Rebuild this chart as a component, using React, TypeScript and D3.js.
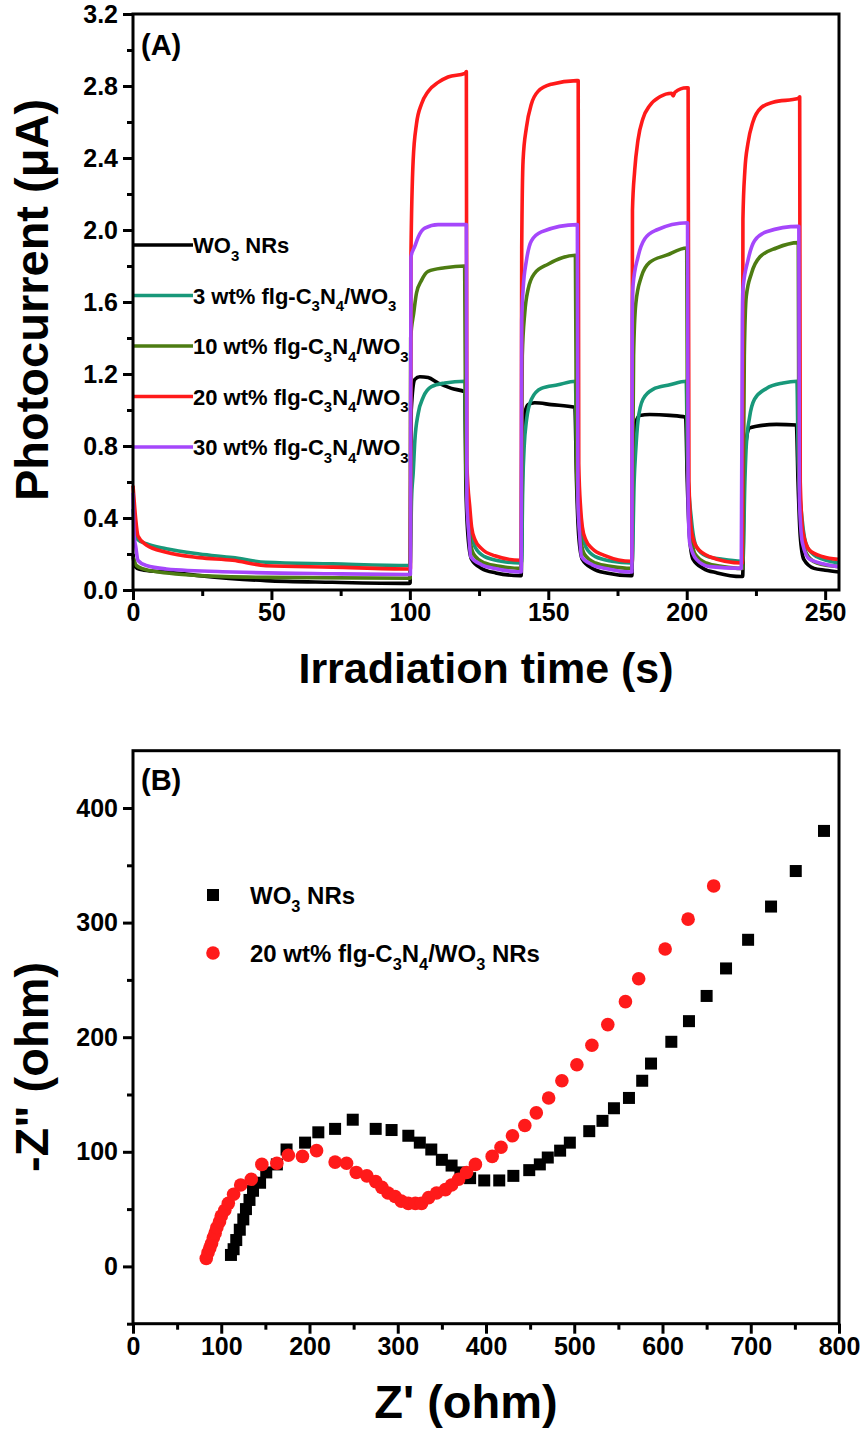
import React, { useEffect, useRef } from 'react';
import * as d3 from 'd3';

const W = 863;
const H = 1436;
const FONT = 'Liberation Sans, Arial, sans-serif';

// ---- panel A: photocurrent, [time (s), current (uA)] ----
const wo3Current: [number, number][] = [
  [0, 0.2], [0.5, 0.14], [1.5, 0.12], [4, 0.11], [12, 0.1], [24, 0.08], [48, 0.052], [72, 0.043], [99.8, 0.037],
  [100.1, 0.04], [100.5, 1.0], [101.8, 1.17], [103.6, 1.185], [106.6, 1.18], [110.2, 1.15], [115, 1.12], [119.9, 1.1],
  [120.2, 0.6], [121, 0.3], [122.3, 0.17], [125.9, 0.12], [131, 0.095], [139.8, 0.08],
  [140.2, 0.08], [140.8, 0.8], [141.5, 0.98], [142.7, 1.03], [145.1, 1.04], [151.1, 1.03], [159.6, 1.015],
  [160.2, 0.6], [161, 0.3], [162.3, 0.17], [166, 0.12], [171, 0.095], [179.8, 0.08],
  [180.2, 0.08], [180.8, 0.8], [181.6, 0.93], [183, 0.97], [186.6, 0.975], [193.9, 0.97], [199.6, 0.96],
  [200.2, 0.6], [201, 0.3], [202.3, 0.17], [206, 0.12], [211, 0.095], [219.8, 0.075],
  [220.2, 0.075], [220.8, 0.7], [221.5, 0.83], [222.7, 0.9], [225.2, 0.91], [232.4, 0.92], [239.6, 0.917],
  [240.2, 0.6], [241, 0.3], [242.3, 0.17], [246, 0.12], [250, 0.11], [255, 0.1],
];
const cn3Current: [number, number][] = [
  [0, 0.45], [0.5, 0.35], [1, 0.3], [1.8, 0.28], [4.8, 0.257], [12, 0.229], [24, 0.2], [36, 0.18], [48, 0.154], [72, 0.145], [99.8, 0.136],
  [100.1, 0.136], [100.6, 0.5], [101.2, 0.65], [101.8, 0.83], [103, 0.98], [104.8, 1.07], [107.8, 1.13], [112.6, 1.15], [119.9, 1.16],
  [120.3, 0.7], [121.7, 0.39], [123.5, 0.24], [127, 0.185], [133, 0.16], [139.8, 0.15],
  [140.3, 0.15], [140.8, 0.6], [141.3, 0.8], [142.1, 0.94], [143.9, 1.06], [147.5, 1.12], [153.5, 1.14], [159.8, 1.16],
  [160.3, 0.7], [161.7, 0.39], [163.5, 0.24], [167, 0.185], [173, 0.16], [179.8, 0.15],
  [180.3, 0.15], [181, 0.6], [181.6, 0.78], [182.4, 0.94], [184.2, 1.06], [187.8, 1.115], [193.9, 1.14], [199.8, 1.16],
  [200.3, 0.7], [201.7, 0.39], [203.5, 0.24], [207, 0.19], [213, 0.17], [219.8, 0.16],
  [220.3, 0.16], [221, 0.6], [221.5, 0.8], [222.7, 0.96], [224.5, 1.06], [228.8, 1.12], [234.8, 1.15], [239.8, 1.16],
  [240.3, 0.7], [241.7, 0.39], [243.5, 0.24], [247, 0.185], [255, 0.15],
];
const cn10Current: [number, number][] = [
  [0, 0.18], [0.3, 0.17], [1.2, 0.136], [6, 0.108], [24, 0.08], [48, 0.07], [99.8, 0.065],
  [100.1, 0.065], [100.3, 1.4], [101.4, 1.54], [102.4, 1.65], [104.2, 1.72], [106.6, 1.77], [112.6, 1.79], [119.8, 1.8],
  [120.2, 0.7], [121.2, 0.35], [123, 0.2], [127, 0.15], [133, 0.13], [139.8, 0.12],
  [140.2, 0.12], [140.6, 1.3], [141.5, 1.54], [142.7, 1.67], [145.1, 1.76], [149.9, 1.81], [159.8, 1.86],
  [160.2, 0.7], [161.2, 0.35], [163, 0.2], [167, 0.15], [173, 0.13], [179.8, 0.12],
  [180.2, 0.12], [180.8, 1.3], [181.6, 1.59], [183.6, 1.74], [186.6, 1.82], [192.7, 1.86], [200, 1.9],
  [200.3, 0.7], [201.3, 0.35], [203, 0.2], [207, 0.15], [213, 0.13], [219.8, 0.12],
  [220.2, 0.12], [220.8, 1.3], [221.5, 1.63], [223.4, 1.76], [226.4, 1.85], [232.4, 1.9], [240.3, 1.93],
  [240.5, 0.7], [241.5, 0.35], [243.3, 0.2], [247, 0.15], [255, 0.13],
];
const cn20Current: [number, number][] = [
  [0, 0.58], [0.4, 0.5], [1, 0.39], [1.8, 0.3], [4.8, 0.25], [12, 0.21], [24, 0.18], [36, 0.165], [48, 0.135], [72, 0.127], [99.8, 0.117],
  [100.2, 0.117], [100.4, 1.87], [101.2, 2.39], [102.4, 2.59], [104.2, 2.7], [106.6, 2.77], [110.2, 2.82], [113.8, 2.85], [119.9, 2.87], [120.4, 2.88],
  [120.6, 0.7], [121.7, 0.45], [122.3, 0.35], [123.5, 0.28], [125.9, 0.23], [130.7, 0.19], [140, 0.165],
  [140.2, 0.165], [140.4, 1.9], [140.9, 2.39], [142.1, 2.57], [143.9, 2.7], [146.3, 2.77], [151.1, 2.81], [160.2, 2.83], [160.8, 2.83],
  [161, 0.7], [161.7, 0.45], [162.3, 0.35], [163.5, 0.28], [165.9, 0.23], [170.7, 0.19], [180, 0.16],
  [180.2, 0.16], [180.4, 2.11], [181.2, 2.33], [182.4, 2.5], [184.2, 2.62], [186.6, 2.69], [190.3, 2.74], [194.5, 2.76], [195.1, 2.745], [195.7, 2.765], [199.9, 2.79], [200.5, 2.79],
  [200.8, 0.6], [201.7, 0.33], [203.5, 0.24], [208.3, 0.185], [220, 0.15],
  [220.1, 0.15], [220.3, 2.06], [221, 2.33], [222.1, 2.48], [223.9, 2.6], [226.9, 2.68], [231.2, 2.71], [240.2, 2.73], [240.8, 2.74],
  [241, 0.6], [242, 0.32], [244.4, 0.22], [249.2, 0.185], [254.6, 0.17],
];
const cn30Current: [number, number][] = [
  [0, 0.54], [0.4, 0.3], [1, 0.24], [1.8, 0.164], [4.8, 0.136], [12, 0.117], [36, 0.1], [72, 0.09], [99.8, 0.086],
  [100.2, 0.086], [100.4, 1.85], [101.8, 1.91], [103, 1.96], [105.4, 2.01], [110.2, 2.03], [120.4, 2.03],
  [120.6, 0.5], [121.3, 0.31], [122, 0.185], [125.9, 0.14], [130.7, 0.12], [140.2, 0.1],
  [140.4, 1.5], [140.9, 1.67], [142.1, 1.83], [143.9, 1.94], [147.5, 1.99], [160.5, 2.03],
  [160.7, 0.5], [161.3, 0.31], [162, 0.185], [165.9, 0.14], [170.7, 0.12], [180.2, 0.1],
  [180.3, 1.5], [180.6, 1.69], [182.4, 1.85], [184.8, 1.95], [189.1, 2.0], [200.3, 2.04],
  [200.5, 0.5], [201.1, 0.26], [203.5, 0.17], [208.3, 0.13], [219.7, 0.12],
  [220.1, 1.5], [220.3, 1.67], [222.1, 1.83], [224.5, 1.94], [228.8, 1.99], [240.5, 2.02],
  [240.7, 0.5], [241.8, 0.26], [244.4, 0.17], [254.6, 0.13],
];

const currentSeries = [wo3Current, cn3Current, cn10Current, cn20Current, cn30Current];
const currentColors = ['#000000', '#18987a', '#4d7c12', '#ff1a1a', '#a547fb'];
// legend parts: [text, isSubscript]
const currentLabels: [string, boolean][][] = [
  [['WO', false], ['3', true], [' NRs', false]],
  [['3 wt% flg-C', false], ['3', true], ['N', false], ['4', true], ['/WO', false], ['3', true]],
  [['10 wt% flg-C', false], ['3', true], ['N', false], ['4', true], ['/WO', false], ['3', true]],
  [['20 wt% flg-C', false], ['3', true], ['N', false], ['4', true], ['/WO', false], ['3', true]],
  [['30 wt% flg-C', false], ['3', true], ['N', false], ['4', true], ['/WO', false], ['3', true]],
];
const timeTicks = [0, 50, 100, 150, 200, 250];
const timeMinor = [25, 75, 125, 175, 225];
const currentTicks = [0, 0.4, 0.8, 1.2, 1.6, 2.0, 2.4, 2.8, 3.2];
const currentMinor = [0.2, 0.6, 1.0, 1.4, 1.8, 2.2, 2.6, 3.0];

// ---- panel B: Nyquist plot, [Z' (ohm), -Z'' (ohm)] ----
const wo3Eis: [number, number][] = [
  [111, 10], [114, 15], [117, 23], [121, 32], [125, 41], [128, 50], [132, 58], [136, 66], [144, 73], [151, 82],
  [163, 89], [174, 102], [195, 108], [210, 117], [229, 120], [249, 128], [275, 120], [293, 119], [312, 114], [325, 108],
  [338, 102], [350, 93], [361, 88], [371, 82], [382, 77], [398, 75], [415, 75], [431, 79], [449, 84], [461, 89],
  [470, 95], [484, 101], [495, 108], [517, 118], [532, 127], [545, 138], [562, 147], [577, 162], [587, 177], [610, 196],
  [630, 214], [650, 236], [672, 260], [697, 285], [723, 314], [751, 345], [783, 380],
];
const cn20Eis: [number, number][] = [
  [83, 7], [85, 12], [87, 16], [89, 20], [91, 25], [93, 29], [95, 34], [98, 39], [100, 44], [104, 49],
  [108, 55], [114, 63], [122, 71], [134, 76], [146, 89], [163, 90], [176, 97], [192, 96], [208, 101], [229, 91],
  [242, 90], [253, 82], [265, 79], [275, 74], [282, 69], [289, 64], [297, 61], [304, 57], [312, 55], [320, 55],
  [327, 55], [335, 60], [344, 64], [354, 67], [361, 71], [369, 76], [378, 82], [388, 89], [407, 96], [417, 104],
  [430, 114], [444, 123], [457, 134], [471, 147], [486, 162], [503, 176], [520, 193], [538, 211], [558, 231],
  [573, 251], [603, 277], [629, 303], [658, 332],
];
const eisLabels: [string, boolean][][] = [
  [['WO', false], ['3', true], [' NRs', false]],
  [['20 wt% flg-C', false], ['3', true], ['N', false], ['4', true], ['/WO', false], ['3', true], [' NRs', false]],
];
const zReTicks = [0, 100, 200, 300, 400, 500, 600, 700, 800];
const zReMinor = [50, 150, 250, 350, 450, 550, 650, 750];
const zImTicks = [0, 100, 200, 300, 400];
const zImMinor = [-50, 50, 150, 250, 350];

function richText(sel: any, parts: [string, boolean][], size: number) {
  let sub = false;
  parts.forEach(([s, isSub]) => {
    const t = sel.append('tspan').text(s);
    if (isSub && !sub) { t.attr('dy', size * 0.35).attr('font-size', size * 0.68); sub = true; }
    else if (isSub) { t.attr('font-size', size * 0.68); }
    else if (!isSub && sub) { t.attr('dy', -size * 0.35); sub = false; }
  });
}

function styleAxis(g: any, fs: number) {
  g.select('.domain').remove();
  g.selectAll('line').attr('stroke', '#000').attr('stroke-width', 3);
  g.selectAll('text').attr('font-size', fs).attr('font-weight', 'bold').attr('font-family', FONT).attr('fill', '#000');
}

export default function App() {
  const ref = useRef<SVGSVGElement>(null);

  useEffect(() => {
    const svg = d3.select(ref.current);
    svg.selectAll('*').remove();

    // ================= panel A =================
    const x = d3.scaleLinear().domain([0, 255]).range([133, 839]);
    const y = d3.scaleLinear().domain([0, 3.2]).range([590, 14]);

    const line = d3.line<[number, number]>().x(d => x(d[0])).y(d => y(d[1])).curve(d3.curveMonotoneX);
    currentSeries.forEach((s, i) => {
      svg.append('path').attr('d', line(s)).attr('fill', 'none')
        .attr('stroke', currentColors[i]).attr('stroke-width', 3.6).attr('stroke-linejoin', 'round');
    });

    // legend
    currentLabels.forEach((parts, i) => {
      const ly = 245 + i * 50.5;
      svg.append('line').attr('x1', 133).attr('x2', 193).attr('y1', ly).attr('y2', ly)
        .attr('stroke', currentColors[i]).attr('stroke-width', 3.6);
      const t = svg.append('text').attr('x', 193).attr('y', ly + 8)
        .attr('font-family', FONT).attr('font-weight', 'bold').attr('font-size', 22);
      richText(t, parts, 22);
    });

    svg.append('rect').attr('x', 133).attr('y', 14).attr('width', 706).attr('height', 576)
      .attr('fill', 'none').attr('stroke', '#000').attr('stroke-width', 3);

    const axA_y = svg.append('g').attr('transform', 'translate(133,0)')
      .call(d3.axisLeft(y).tickValues(currentTicks).tickSize(10).tickPadding(5).tickFormat(d3.format('.1f')));
    styleAxis(axA_y, 25);
    const axA_y2 = svg.append('g').attr('transform', 'translate(133,0)')
      .call(d3.axisLeft(y).tickValues(currentMinor).tickSize(6).tickFormat(() => ''));
    styleAxis(axA_y2, 25);
    const axA_x = svg.append('g').attr('transform', 'translate(0,590)')
      .call(d3.axisBottom(x).tickValues(timeTicks).tickSize(10).tickPadding(3));
    styleAxis(axA_x, 25);
    const axA_x2 = svg.append('g').attr('transform', 'translate(0,590)')
      .call(d3.axisBottom(x).tickValues(timeMinor).tickSize(6).tickFormat(() => ''));
    styleAxis(axA_x2, 25);

    svg.append('text').attr('x', 141).attr('y', 55).text('(A)')
      .attr('font-family', FONT).attr('font-weight', 'bold').attr('font-size', 29);

    svg.append('text').attr('transform', 'translate(48,300) rotate(-90)').attr('text-anchor', 'middle')
      .attr('font-family', FONT).attr('font-weight', 'bold').attr('font-size', 47)
      .text('Photocurrent (\u03bcA)');
    svg.append('text').attr('x', 486).attr('y', 683).attr('text-anchor', 'middle')
      .attr('font-family', FONT).attr('font-weight', 'bold').attr('font-size', 43)
      .text('Irradiation time (s)');

    // ================= panel B =================
    const xb = d3.scaleLinear().domain([0, 800]).range([133, 839]);
    const yb = d3.scaleLinear().domain([-50, 450]).range([1323.7, 750.7]);

    svg.append('g').selectAll('rect').data(wo3Eis).enter().append('rect')
      .attr('x', d => xb(d[0]) - 6).attr('y', d => yb(d[1]) - 6)
      .attr('width', 12).attr('height', 12).attr('fill', '#000');
    svg.append('g').selectAll('circle').data(cn20Eis).enter().append('circle')
      .attr('cx', d => xb(d[0])).attr('cy', d => yb(d[1])).attr('r', 6.8).attr('fill', '#ff1a1a');

    // legend
    svg.append('rect').attr('x', 207).attr('y', 889).attr('width', 12).attr('height', 12).attr('fill', '#000');
    svg.append('circle').attr('cx', 213).attr('cy', 953).attr('r', 6.8).attr('fill', '#ff1a1a');
    eisLabels.forEach((parts, i) => {
      const t = svg.append('text').attr('x', 250).attr('y', 904 + i * 58)
        .attr('font-family', FONT).attr('font-weight', 'bold').attr('font-size', 24);
      richText(t, parts, 24);
    });

    svg.append('rect').attr('x', 133).attr('y', 750.7).attr('width', 706).attr('height', 573)
      .attr('fill', 'none').attr('stroke', '#000').attr('stroke-width', 3);

    const axB_y = svg.append('g').attr('transform', 'translate(133,0)')
      .call(d3.axisLeft(yb).tickValues(zImTicks).tickSize(10).tickPadding(5));
    styleAxis(axB_y, 25);
    const axB_y2 = svg.append('g').attr('transform', 'translate(133,0)')
      .call(d3.axisLeft(yb).tickValues(zImMinor).tickSize(6).tickFormat(() => ''));
    styleAxis(axB_y2, 25);
    const axB_x = svg.append('g').attr('transform', 'translate(0,1323.7)')
      .call(d3.axisBottom(xb).tickValues(zReTicks).tickSize(10).tickPadding(4));
    styleAxis(axB_x, 25);
    const axB_x2 = svg.append('g').attr('transform', 'translate(0,1323.7)')
      .call(d3.axisBottom(xb).tickValues(zReMinor).tickSize(6).tickFormat(() => ''));
    styleAxis(axB_x2, 25);

    svg.append('text').attr('x', 141).attr('y', 790).text('(B)')
      .attr('font-family', FONT).attr('font-weight', 'bold').attr('font-size', 29);

    svg.append('text').attr('transform', 'translate(48,1067) rotate(-90)').attr('text-anchor', 'middle')
      .attr('font-family', FONT).attr('font-weight', 'bold').attr('font-size', 47)
      .text('-Z" (ohm)');
    svg.append('text').attr('x', 466).attr('y', 1418).attr('text-anchor', 'middle')
      .attr('font-family', FONT).attr('font-weight', 'bold').attr('font-size', 47)
      .text("Z' (ohm)");
  }, []);

  return (
    <svg ref={ref} width={W} height={H}
      style={{ position: 'absolute', left: 0, top: 0, background: '#fff' }} />
  );
}
